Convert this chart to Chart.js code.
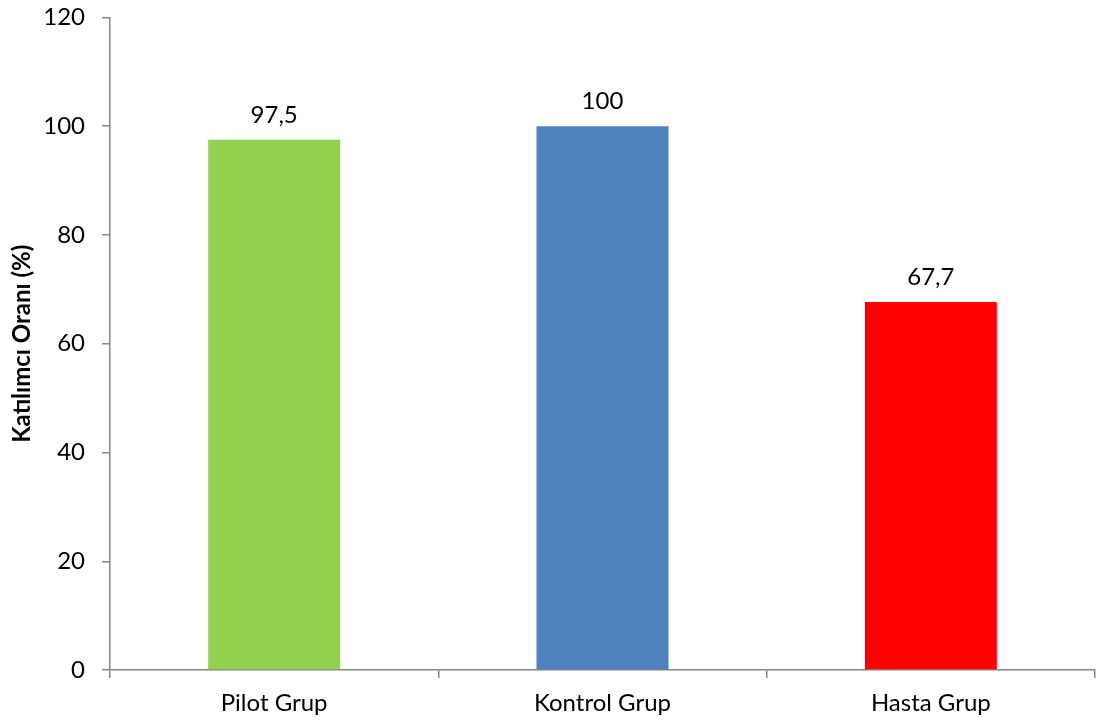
<!DOCTYPE html>
<html>
<head>
<meta charset="utf-8">
<script src="https://cdn.jsdelivr.net/npm/chart.js@4.4.1/dist/chart.umd.min.js"></script>
<style>
  html, body { margin: 0; padding: 0; background: #fff; }
  #wrap { width: 1098px; height: 720px; }
</style>
</head>
<body>
<div id="wrap"><canvas id="chart" width="1098" height="720"></canvas></div>
<script>
var groups = ['Pilot Grup', 'Kontrol Grup', 'Hasta Grup'];
var rates = [97.5, 100, 67.7];
var barColors = ['#92D050', '#4F81BD', '#FF0000'];
var yTicks = [0, 20, 40, 60, 80, 100, 120];

var axisGray = '#868686';
var fontFamily = "Lato, 'Open Sans', sans-serif";

/* value labels above each bar, decimal comma */
var valueLabels = {
  id: 'valueLabels',
  afterDatasetsDraw: function(chart) {
    var ctx = chart.ctx;
    var meta = chart.getDatasetMeta(0);
    ctx.save();
    ctx.font = '24px ' + fontFamily;
    ctx.fillStyle = '#000';
    ctx.textAlign = 'center';
    ctx.textBaseline = 'alphabetic';
    meta.data.forEach(function(bar, i) {
      var text = String(rates[i]).replace('.', ',');
      ctx.fillText(text, bar.x, bar.y - 17);
    });
    ctx.restore();
  }
};

new Chart(document.getElementById('chart'), {
  type: 'bar',
  data: {
    labels: groups,
    datasets: [{
      data: rates,
      backgroundColor: barColors,
      borderWidth: 0,
      categoryPercentage: 1,
      barPercentage: 0.402
    }]
  },
  options: {
    responsive: false,
    animation: false,
    layout: { padding: { top: 17.5, right: 3, left: 0, bottom: 0 } },
    plugins: {
      legend: { display: false },
      tooltip: { enabled: false }
    },
    scales: {
      x: {
        grid: {
          offset: true,
          drawOnChartArea: false,
          drawTicks: true,
          tickLength: 8,
          color: axisGray,
          lineWidth: 1.5
        },
        border: { color: axisGray, width: 1.5 },
        ticks: {
          color: '#000',
          padding: 11,
          font: { family: fontFamily, size: 24 }
        },
        afterFit: function(scale) { scale.height = 50; }
      },
      y: {
        min: 0,
        max: 120,
        afterBuildTicks: function(scale) {
          scale.ticks = yTicks.map(function(v) { return { value: v }; });
        },
        grid: {
          drawOnChartArea: false,
          drawTicks: true,
          tickLength: 8,
          color: axisGray,
          lineWidth: 1.5
        },
        border: { color: axisGray, width: 1.5 },
        ticks: {
          color: '#000',
          padding: 17,
          font: { family: fontFamily, size: 24 }
        },
        title: {
          display: true,
          text: 'Katılımcı Oranı (%)',
          color: '#000',
          padding: { top: 8, bottom: 0 },
          font: { family: fontFamily, size: 24, weight: 'bold' }
        },
        afterFit: function(scale) {
          scale.width = 110;
          scale.paddingTop = 0;
          scale.paddingBottom = 0;
        }
      }
    }
  },
  plugins: [valueLabels]
});
</script>
</body>
</html>
